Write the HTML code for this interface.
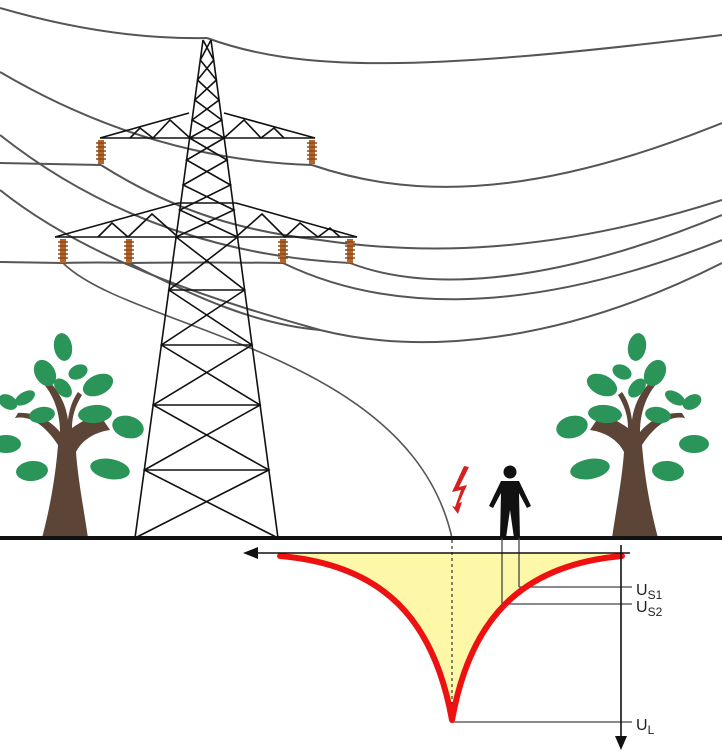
<!DOCTYPE html>
<html><head><meta charset="utf-8"><style>
html,body{margin:0;padding:0;background:#fff;width:722px;height:752px;overflow:hidden}
svg{display:block}
text{font-family:"Liberation Sans",sans-serif;fill:#222}
</style></head><body>
<svg width="722" height="752" viewBox="0 0 722 752" xmlns="http://www.w3.org/2000/svg">
<defs>
<g id="tree">
  <path d="M42,538 C52,500 56,470 58,445 C45,425 30,415 15,418 L18,413 C35,412 50,420 60,432 C60,415 55,395 40,380 L46,378 C60,392 66,405 68,420 C70,405 74,398 78,392 L82,395 C76,405 72,415 72,428 C80,422 90,418 98,412 L110,430 C95,432 82,440 76,452 C78,480 84,510 88,538 Z" fill="#5c4536"/>
  <g fill="#2a9459">
    <ellipse cx="63" cy="347" rx="9" ry="14" transform="rotate(-10 63 347)"/>
    <ellipse cx="45" cy="373" rx="10" ry="14" transform="rotate(-30 45 373)"/>
    <ellipse cx="78" cy="372" rx="10" ry="7" transform="rotate(-25 78 372)"/>
    <ellipse cx="98" cy="385" rx="16" ry="10" transform="rotate(-25 98 385)"/>
    <ellipse cx="63" cy="388" rx="7" ry="11" transform="rotate(-40 63 388)"/>
    <ellipse cx="8" cy="402" rx="10" ry="7" transform="rotate(30 8 402)"/>
    <ellipse cx="25" cy="398" rx="11" ry="6" transform="rotate(-30 25 398)"/>
    <ellipse cx="42" cy="415" rx="13" ry="8" transform="rotate(-10 42 415)"/>
    <ellipse cx="95" cy="414" rx="17" ry="9" transform="rotate(-5 95 414)"/>
    <ellipse cx="128" cy="427" rx="16" ry="11" transform="rotate(15 128 427)"/>
    <ellipse cx="6" cy="444" rx="15" ry="9"/>
    <ellipse cx="32" cy="471" rx="16" ry="10" transform="rotate(-5 32 471)"/>
    <ellipse cx="110" cy="469" rx="20" ry="10" transform="rotate(10 110 469)"/>
  </g>
</g>
<g id="ins"><rect x="-3" y="0" width="6" height="24" fill="#b5652a"/>
<path d="M-5,3h10M-5,7h10M-5,11h10M-5,15h10M-5,19h10" stroke="#8a4a1a" stroke-width="1.6"/></g>
</defs>

<g fill="none" stroke="#555" stroke-width="2">
  <path d="M0,8 Q110,40 207,38"/>
  <path d="M207,38 C300,72 420,72 722,35"/>
  <path d="M0,72 Q150,160 312,165"/>
  <path d="M312,165 C400,195 520,205 722,123"/>
  <path d="M0,163 L101,165"/>
  <path d="M101,165 C180,215 250,232 320,240 C420,255 550,255 722,200"/>
  <path d="M0,135 C120,230 250,258 350,263"/>
  <path d="M350,263 C420,290 540,290 722,215"/>
  <path d="M0,190 C100,270 250,310 320,330 C420,355 560,345 722,263"/>
  <path d="M129,263 C200,300 260,325 320,330"/>
  <path d="M0,262 L63,263 Q100,262 129,263 Q210,262 283,263"/>
  <path d="M283,263 C380,310 520,320 722,240"/>
  <path d="M63,263 C130,330 410,350 452,538" stroke-width="1.6"/>
</g>

<g stroke="#111" stroke-width="1.6" fill="none">
  <path d="M203,40 L135,538 M211,40 L278,538"/>
  <path d="M189.6,138 H315 M100,138 H189.6 M178,203 H236 M55,237 H357"/>
  <path d="M189,113 L100,138 M224,113 L315,138 M178,203 L55,237 M236,203 L357,237"/>
  <path d="M130,138 L140,128 L153,138 L170,120 L190,138 M224,138 L244,120 L261,138 L274,128 L284,138"/>
  <path d="M98,237 L112,223 L128,237 L152,214 L178,237 M236,237 L262,214 L285,237 L300,223 L318,237 L330,228 L340,237"/>
  <path d="M203,40 L213.7,60 L197.5,80 L219.1,100 L192.1,120 L224.2,138 L186.6,160 L230.5,185 L179.8,210 L237.5,237"/>
  <path d="M211,40 L200.3,60 L216.4,80 L194.8,100 L221.8,120 L189.6,138 L227.1,160 L183.2,185 L233.9,210 L176.1,237"/>
  <path d="M176.1,237 L244.6,290 L161.4,345 L260.1,405 L144.3,470 L278,538"/>
  <path d="M237.5,237 L168.9,290 L252,345 L153.2,405 L268.9,470 L135,538"/>
  <path d="M168.9,290 H244.6 M161.4,345 H252 M153.2,405 H260.1 M144.3,470 H268.9"/>
</g>
<use href="#ins" x="101" y="140"/><use href="#ins" x="312" y="140"/>
<use href="#ins" x="63" y="239"/><use href="#ins" x="129" y="239"/>
<use href="#ins" x="283" y="239"/><use href="#ins" x="350" y="239"/>

<use href="#tree"/>
<use href="#tree" transform="translate(700,0) scale(-1,1)"/>

<path d="M464,466 L452,492 L461,490 L455,507 L452,506 L458,514 L462,502 L459,503 L467,485 L459,487 L469,467 Z" fill="#d42020"/>

<g fill="#111">
  <circle cx="510" cy="472" r="6.5"/>
  <path d="M501,481 H519 L531,506 L527,508 L519,493 L520,538 L514,538 L510,510 L506,538 L500,538 L501,493 L493,508 L489,506 Z"/>
</g>

<rect x="0" y="536" width="722" height="4" fill="#111"/>

<path d="M280,553 H622 L622,556 C520,565 470,620 452,720 C434,620 384,565 280,556 Z" fill="#fdf8a8"/>
<line x1="452" y1="540" x2="452" y2="720" stroke="#333" stroke-width="1.2" stroke-dasharray="3,3"/>
<g stroke="#444" stroke-width="1.3">
  <line x1="502" y1="538" x2="502" y2="604"/>
  <line x1="519" y1="538" x2="519" y2="587"/>
  <line x1="519" y1="587" x2="632" y2="587"/>
  <line x1="502" y1="604" x2="632" y2="604"/>
  <line x1="452" y1="722" x2="632" y2="722"/>
</g>
<path d="M280,556 C384,565 434,620 452,720 C470,620 520,565 622,556" fill="none" stroke="#ee1111" stroke-width="6" stroke-linecap="round" stroke-linejoin="round"/>
<line x1="256" y1="553" x2="630" y2="553" stroke="#111" stroke-width="1.6"/>
<path d="M243,553 L258,547 L258,559 Z" fill="#111"/>
<line x1="621" y1="545" x2="621" y2="737" stroke="#111" stroke-width="1.6"/>
<path d="M621,750 L615,736 L627,736 Z" fill="#111"/>

<text x="636" y="595" font-size="16">U<tspan font-size="12" dy="4">S1</tspan></text>
<text x="636" y="612" font-size="16">U<tspan font-size="12" dy="4">S2</tspan></text>
<text x="636" y="730" font-size="16">U<tspan font-size="12" dy="4">L</tspan></text>
</svg>
</body></html>
